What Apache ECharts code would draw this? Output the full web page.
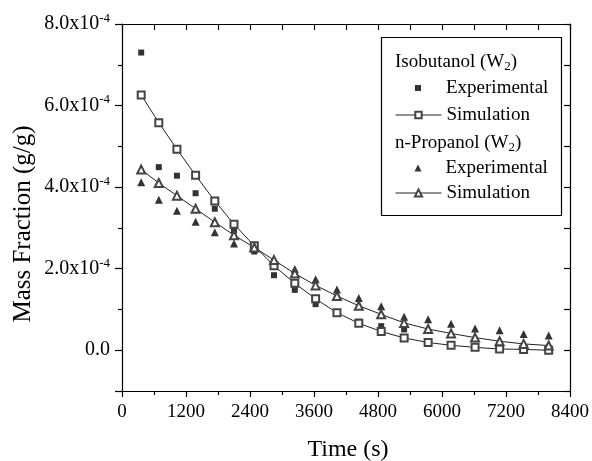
<!DOCTYPE html>
<html>
<head>
<meta charset="utf-8">
<script src="https://cdn.jsdelivr.net/npm/echarts@6/dist/echarts.min.js"></script>
<style>html,body{margin:0;padding:0;background:#fff}#c{width:592px;height:461px}</style>
</head>
<body>
<div id="c"></div>
<script>
// Time (s)
var times = [360, 690, 1030, 1380, 1740, 2100, 2480, 2850, 3240, 3630, 4030, 4440, 4860, 5290, 5740, 6170, 6620, 7080, 7530, 8000];
// Mass fraction in units of 1e-4 g/g
var isoExp  = [7.30, 4.49, 4.28, 3.85, 3.47, 2.93, 2.42, 1.84, 1.48, 1.13, 0.92, 0.70, 0.59, 0.51, 0.19, 0.12, 0.07, 0.03, 0.02, 0.00];
var isoSim  = [6.26, 5.58, 4.93, 4.29, 3.66, 3.09, 2.56, 2.07, 1.64, 1.26, 0.92, 0.66, 0.46, 0.30, 0.19, 0.12, 0.07, 0.03, 0.02, 0.00];
var propExp = [4.12, 3.69, 3.42, 3.15, 2.89, 2.62, 2.50, 2.22, 1.99, 1.74, 1.49, 1.28, 1.08, 0.82, 0.76, 0.65, 0.53, 0.49, 0.40, 0.36];
var propSim = [4.43, 4.10, 3.79, 3.47, 3.14, 2.82, 2.52, 2.21, 1.88, 1.59, 1.33, 1.09, 0.88, 0.67, 0.52, 0.41, 0.31, 0.22, 0.155, 0.115];
var xTicks = [0, 1200, 2400, 3600, 4800, 6000, 7200, 8400];
var yTicks = [0, 2, 4, 6, 8];

function pairs(ys) { return times.map(function (t, i) { return [t, ys[i]]; }); }

var FONT = 'Liberation Serif';
var chart = echarts.init(document.getElementById('c'), null, { renderer: 'canvas' });
var axisLine = { show: true, onZero: false, lineStyle: { color: '#000', width: 1.2 } };
var tickLine = { color: '#000', width: 1.2 };
var legText = { fontFamily: FONT, fontSize: 19, color: '#000', lineHeight: 20 };
function legendOne(name, top, isExp, size) {
  return isExp ? {
    orient: 'vertical', left: 418 - size / 2, top: top, padding: 0,
    itemWidth: size, itemHeight: size, data: [name],
    formatter: function (n) { return n.split('|')[1]; },
    textStyle: Object.assign({ padding: [0, 0, 0, 26 - size] }, legText)
  } : {
    orient: 'vertical', left: 395, top: top, padding: 0,
    itemWidth: 46, itemHeight: size, data: [name],
    lineStyle: { width: 1, color: '#222' },
    itemStyle: { borderWidth: 0.9 },
    formatter: function (n) { return n.split('|')[1]; },
    textStyle: legText
  };
}

chart.setOption({
  animation: false,
  backgroundColor: '#fff',
  grid: { left: 122, right: 21, top: 24, bottom: 70, containLabel: false },
  xAxis: [{
    type: 'value', min: xTicks[0], max: xTicks[xTicks.length - 1], interval: 1200,
    position: 'bottom',
    axisLine: axisLine,
    axisTick: { show: true, inside: false, length: 6, lineStyle: tickLine },
    minorTick: { show: true, splitNumber: 2, length: 4, lineStyle: tickLine },
    splitLine: { show: false },
    axisLabel: { show: true, margin: 12, color: '#000', fontFamily: FONT, fontSize: 19,
      formatter: function (v) { return String(v); } }
  }, {
    type: 'value', min: 0, max: 8400, interval: 600,
    position: 'top',
    axisLine: axisLine,
    axisTick: { show: true, inside: true, length: 6, lineStyle: tickLine },
    splitLine: { show: false },
    axisLabel: { show: false }
  }],
  yAxis: [{
    type: 'value', min: -1, max: 8,
    position: 'left',
    axisLine: axisLine,
    axisTick: { show: true, inside: false, length: 7, lineStyle: tickLine },
    minorTick: { show: true, splitNumber: 2, length: 4, lineStyle: tickLine },
    splitLine: { show: false },
    axisLabel: {
      show: true, margin: 12, color: '#000', fontFamily: FONT, fontSize: 20,
      formatter: function (v) {
        if (yTicks.indexOf(v) < 0) return '';
        if (v === 0) return '{a|0.0}';
        return '{a|' + v.toFixed(1) + 'x10}{b|-4}';
      },
      rich: {
        a: { fontFamily: FONT, fontSize: 20, color: '#000', lineHeight: 24 },
        b: { fontFamily: FONT, fontSize: 13, color: '#000', lineHeight: 12, verticalAlign: 'top' }
      }
    }
  }, {
    type: 'value', min: -1, max: 8, interval: 1,
    position: 'right',
    axisLine: axisLine,
    axisTick: { show: true, inside: true, length: 6, lineStyle: tickLine },
    splitLine: { show: false },
    axisLabel: { show: false }
  }],
  legend: [
    legendOne('Isobutanol|Experimental', 78, true, 6),
    legendOne('Isobutanol|Simulation', 105, false, 8),
    legendOne('n-Propanol|Experimental', 158, true, 7),
    legendOne('n-Propanol|Simulation', 183, false, 9)
  ],
  graphic: [{
    type: 'rect', shape: { x: 381.5, y: 37.5, width: 180, height: 178 },
    style: { fill: '#fff', stroke: '#000', lineWidth: 1.2 }, z: 1
  }, {
    type: 'text', x: 395, y: 62, z: 5,
    style: {
      text: '{n|Isobutanol (W}{s|2}{n|)}', verticalAlign: 'middle',
      rich: {
        n: { fontFamily: FONT, fontSize: 19, fill: '#000', lineHeight: 22 },
        s: { fontFamily: FONT, fontSize: 13, fill: '#000', lineHeight: 10, verticalAlign: 'bottom' }
      }
    }
  }, {
    type: 'text', x: 395, y: 143, z: 5,
    style: {
      text: '{n|n-Propanol (W}{s|2}{n|)}', verticalAlign: 'middle',
      rich: {
        n: { fontFamily: FONT, fontSize: 19, fill: '#000', lineHeight: 22 },
        s: { fontFamily: FONT, fontSize: 13, fill: '#000', lineHeight: 10, verticalAlign: 'bottom' }
      }
    }
  }, {
    type: 'text', x: 348, y: 450, z: 5,
    style: { text: 'Time (s)', fontFamily: FONT, fontSize: 24, fill: '#000', align: 'center', verticalAlign: 'middle' }
  }, {
    type: 'text', x: 23, y: 224, rotation: Math.PI / 2, z: 5,
    style: { text: 'Mass Fraction (g/g)', fontFamily: FONT, fontSize: 25, fill: '#000', align: 'center', verticalAlign: 'middle' }
  }],
  series: [{
    name: 'Isobutanol|Experimental', type: 'scatter', xAxisIndex: 0, yAxisIndex: 0,
    symbol: 'rect', symbolSize: 6, itemStyle: { color: '#000' },
    data: pairs(isoExp)
  }, {
    name: 'n-Propanol|Experimental', type: 'scatter', xAxisIndex: 0, yAxisIndex: 0,
    symbol: 'triangle', symbolSize: 8, itemStyle: { color: '#000' },
    data: pairs(propExp)
  }, {
    name: 'Isobutanol|Simulation', type: 'line', xAxisIndex: 0, yAxisIndex: 0,
    symbol: 'emptyRect', symbolSize: 7, showAllSymbol: true,
    lineStyle: { color: '#222', width: 1 },
    itemStyle: { color: '#444', borderWidth: 0.9 },
    data: pairs(isoSim)
  }, {
    name: 'n-Propanol|Simulation', type: 'line', xAxisIndex: 0, yAxisIndex: 0,
    symbol: 'emptyTriangle', symbolSize: 8, showAllSymbol: true,
    lineStyle: { color: '#222', width: 1 },
    itemStyle: { color: '#444', borderWidth: 0.9 },
    data: pairs(propSim)
  }]
});
</script>
</body>
</html>
